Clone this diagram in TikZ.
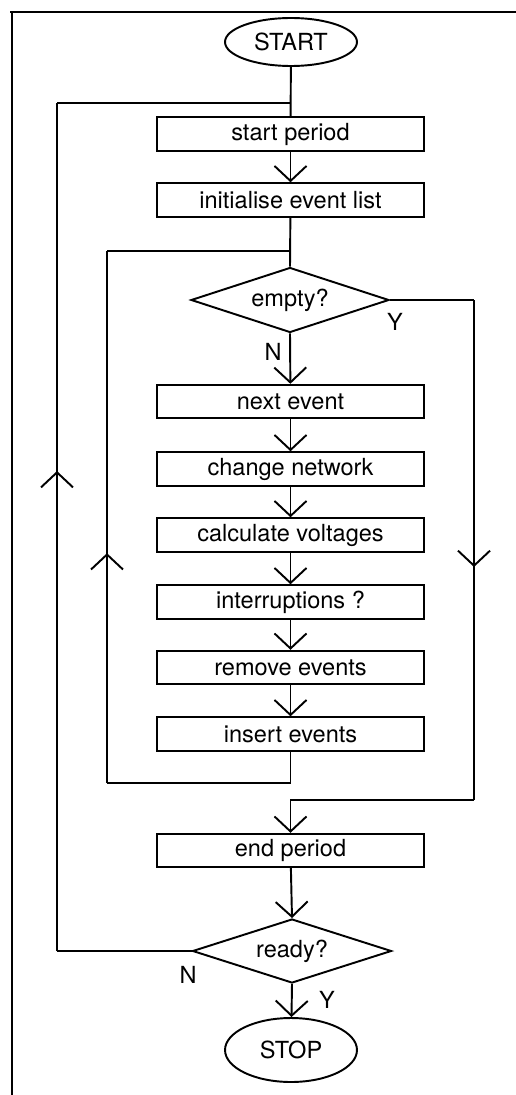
\documentclass[tikz,border=0pt]{standalone}
\usepackage{fontspec}
\setmainfont{TeX Gyre Heros}
\usetikzlibrary{shapes.geometric,arrows.meta,decorations.markings}

\tikzset{
  flow/.style={line width=1.1pt},
  tip/.tip={Straight Barb[length=0.3cm,width=0.64cm,line width=1.1pt]},
  arr/.style={flow,-{tip}},
  stepbox/.style={draw,flow,rectangle,minimum width=5.34cm,minimum height=0.67cm,inner sep=0pt,font=\fontsize{13.4}{16}\selectfont},
  terminal/.style={draw,flow,ellipse,minimum width=2.64cm,inner sep=0pt,font=\fontsize{13.4}{16}\selectfont},
  decision/.style={draw,flow,diamond,aspect=3.05,inner sep=0pt,font=\fontsize{13.4}{16}\selectfont},
  yn/.style={font=\fontsize{13.4}{16}\selectfont,inner sep=0pt},
  midarrow/.style={flow,postaction={decorate},
    decoration={markings,mark=at position #1 with {\arrow{tip}}}},
}

\begin{document}
\begin{tikzpicture}[x=0.02cm,y=-0.02cm]
  \useasboundingbox (0,0) rectangle (516,1095);

  % partial frame: top and left edges
  \draw[line width=1.5pt] (10,12) -- (516,12);
  \draw[line width=1.5pt] (12,12) -- (12,1095);

  % nodes
  \node[terminal,minimum height=0.96cm] (start) at (291,42) {START};
  \node[stepbox] (sp)     at (290.5,134)   {start period};
  \node[stepbox] (init)   at (290.5,200)   {initialise event list};
  \node[decision,minimum width=3.96cm,minimum height=1.3cm] (empty) at (290,300) {empty?};
  \node[stepbox] (next)   at (290.5,401.5) {next event};
  \node[stepbox] (change) at (290.5,469)   {change network};
  \node[stepbox] (calc)   at (290.5,535)   {calculate voltages};
  \node[stepbox] (intr)   at (290.5,602)   {interruptions ?};
  \node[stepbox] (remove) at (290.5,667.5) {remove events};
  \node[stepbox] (insert) at (290.5,734)   {insert events};
  \node[stepbox] (endp)   at (290.5,850.5) {end period};
  \node[decision,minimum width=3.98cm,minimum height=1.28cm] (ready) at (292,951) {ready?};
  \node[terminal,minimum height=1.28cm] (stop) at (291,1050) {STOP};

  % branch labels
  \node[yn] (yEmpty) at (395,322)  {Y};
  \node[yn] (nEmpty) at (273,352)  {N};
  \node[yn] (nReady) at (188,975)  {N};
  \node[yn] (yReady) at (327,1000) {Y};

  % junction and corner points
  \coordinate (j1) at (290.5,103);
  \coordinate (j2) at (290.5,251);
  \coordinate (outerLow) at (57,951);
  \coordinate (outerTop) at (57,103);
  \coordinate (innerLow) at (107,783);
  \coordinate (innerTop) at (107,251);
  \coordinate (rightTop) at (474,300);
  \coordinate (rightLow) at (474,800);

  % main line
  \draw[flow] (start) -- (sp);
  \draw[arr] (sp) -- (init);
  \draw[flow] (init) -- (empty.north);
  \draw[arr] (empty.south) -- (next);
  \draw[arr] (next) -- (change);
  \draw[arr] (change) -- (calc);
  \draw[arr] (calc) -- (intr);
  \draw[arr] (intr) -- (remove);
  \draw[arr] (remove) -- (insert);
  \draw[arr] (endp) -- (ready.north);
  \draw[arr] (ready.south) -- (stop);

  % inner loop back to the empty? test
  \draw[flow] (insert.south) |- (innerLow);
  \draw[midarrow=0.432] (innerLow) -- (innerTop);
  \draw[flow] (innerTop) -- (j2);

  % exit when the event list is empty
  \draw[flow] (empty.east) -- (rightTop);
  \draw[midarrow=0.534] (rightTop) -- (rightLow);
  \draw[arr] (rightLow) -| (endp.north);

  % outer loop back to start period
  \draw[flow] (ready.west) -- (outerLow);
  \draw[midarrow=0.566] (outerLow) -- (outerTop);
  \draw[flow] (outerTop) -- (j1);
\end{tikzpicture}
\end{document}
